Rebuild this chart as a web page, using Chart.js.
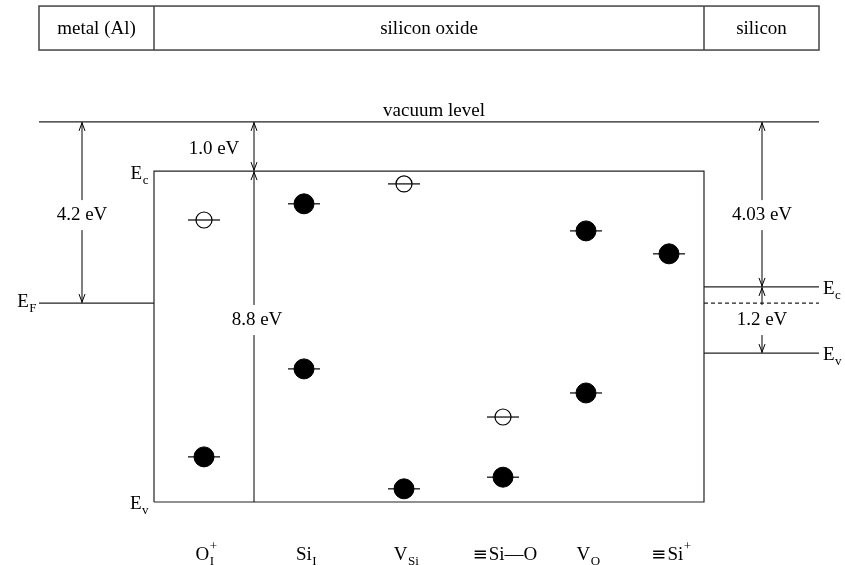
<!DOCTYPE html>
<html lang="en">
<head>
<meta charset="UTF-8">
<title>Defect levels in silicon oxide</title>
<script src="https://cdn.jsdelivr.net/npm/chart.js"></script>
<style>
  html, body { margin: 0; padding: 0; background: #fff; }
  .chart-box { width: 845px; height: 565px; }
</style>
</head>
<body>
<div class="chart-box"><canvas id="bandChart" width="845" height="565"></canvas></div>
<script>
  // x: position across the stack (oxide runs from 0 to 11), y: energy in eV above oxide Ev
  const layerNames = ['metal (Al)', 'silicon oxide', 'silicon'];
  const layerEdges = [-2.3, 0, 11, 13.3];

  const vacuumLevel = 10.11;
  const oxideBands = [0, 8.8];        // Ev, Ec
  const metalFermi = 5.29;
  const siliconBands = [3.96, 5.72];  // Ev, Ec
  const siliconFermi = 5.29;

  // defect columns
  const defectX = [1.0, 3.0, 5.0, 6.98, 8.64, 10.3];
  const defectBase = ['O', 'Si', 'V', '\u2261Si\u2014O', 'V', '\u2261Si'];
  const defectSub = ['I', 'I', 'Si', '', 'O', ''];
  const defectSup = ['+', '', '', '', '', '+'];
  const filledLevels = [[1.2], [7.93, 3.54], [0.35], [0.66], [7.21, 2.9], [6.6]];
  const emptyLevels = [[7.5], [], [8.46], [2.26], [], []];

  // energy arrows
  const gapX = [-1.44, 2.0, 2.0, 12.16, 12.16];
  const gapTop = [vacuumLevel, vacuumLevel, 8.8, vacuumLevel, 5.72];
  const gapBottom = [metalFermi, 8.8, 0, 5.72, 3.96];
  const gapText = ['4.2 eV', '1.0 eV', '8.8 eV', '4.03 eV', '1.2 eV'];
  const gapTextX = [-1.44, 1.2, 2.06, 12.16, 12.16];
  const gapTextY = [7.63, 9.39, 4.84, 7.63, 4.84];

  const SERIF = '"Liberation Serif", "DejaVu Serif", serif';

  function pts(xs, ys) {
    return xs.map((x, i) => ({ x: x, y: ys[i] }));
  }

  function levelPoints(levels) {
    const out = [];
    levels.forEach((list, i) => list.forEach(e => out.push({ x: defectX[i], y: e })));
    return out;
  }

  function bandLine(data, dash) {
    return {
      data: data,
      showLine: true,
      pointRadius: 0,
      borderColor: '#222',
      borderWidth: 1.2,
      borderDash: dash || [],
      order: 3
    };
  }

  const datasets = [
    bandLine(pts([layerEdges[0], layerEdges[3]], [vacuumLevel, vacuumLevel])),
    bandLine(pts([layerEdges[0], layerEdges[1]], [metalFermi, metalFermi])),
    bandLine(pts([0, 0, 11, 11, 0], [oxideBands[0], oxideBands[1], oxideBands[1], oxideBands[0], oxideBands[0]])),
    bandLine(pts([layerEdges[2], layerEdges[3]], [siliconBands[1], siliconBands[1]])),
    bandLine(pts([layerEdges[2], layerEdges[3]], [siliconBands[0], siliconBands[0]])),
    bandLine(pts([layerEdges[2], layerEdges[3]], [siliconFermi, siliconFermi]), [4, 3]),
    {
      // short horizontal bar through every level
      data: levelPoints(filledLevels).concat(levelPoints(emptyLevels)),
      pointStyle: 'line',
      pointRadius: 16,
      pointBorderColor: '#000',
      pointBorderWidth: 1.2,
      order: 2
    },
    {
      data: levelPoints(filledLevels),
      pointStyle: 'circle',
      pointRadius: 10,
      pointBackgroundColor: '#000',
      pointBorderColor: '#000',
      pointBorderWidth: 1,
      order: 1
    },
    {
      data: levelPoints(emptyLevels),
      pointStyle: 'circle',
      pointRadius: 8,
      pointBackgroundColor: 'rgba(0,0,0,0)',
      pointBorderColor: '#000',
      pointBorderWidth: 1.2,
      order: 1
    }
  ];

  function drawLabel(ctx, px, py, base, sub, sup, align, size) {
    const big = size + 'px ' + SERIF;
    const small = Math.round(size * 0.7) + 'px ' + SERIF;
    const symFont = (size - 1) + 'px "DejaVu Sans"';
    // the triple-bond sign is drawn wider, in DejaVu Sans
    let prefix = '';
    if (base.charAt(0) === '\u2261') { prefix = '\u2261'; base = base.slice(1); }
    ctx.font = symFont;
    const wPre = prefix ? ctx.measureText(prefix).width + 1 : 0;
    ctx.font = big;
    const wBase = ctx.measureText(base).width;
    ctx.font = small;
    const wSub = sub ? ctx.measureText(sub).width : 0;
    const wSup = sup ? ctx.measureText(sup).width : 0;
    const total = wPre + wBase + Math.max(wSub, wSup);
    let left = px - total / 2;
    if (align === 'right') left = px - total;
    if (align === 'left') left = px;
    ctx.textAlign = 'left';
    ctx.textBaseline = 'alphabetic';
    if (prefix) {
      ctx.font = symFont;
      ctx.fillText(prefix, left, py);
      left += wPre;
    }
    ctx.font = big;
    ctx.fillText(base, left, py);
    ctx.font = small;
    if (sub) ctx.fillText(sub, left + wBase + 0.5, py + 5);
    if (sup) ctx.fillText(sup, left + wBase + 0.5, py - 10);
  }

  function arrowHead(ctx, x, y, dir) {
    ctx.beginPath();
    ctx.moveTo(x - 3, y + dir * 8);
    ctx.lineTo(x, y);
    ctx.lineTo(x + 3, y + dir * 8);
    ctx.stroke();
  }

  const annotations = {
    id: 'annotations',
    afterDatasetsDraw(chart) {
      const ctx = chart.ctx;
      const xs = chart.scales.x, ys = chart.scales.y;
      const X = v => xs.getPixelForValue(v);
      const Y = v => ys.getPixelForValue(v);
      ctx.save();
      ctx.fillStyle = '#000';
      ctx.strokeStyle = '#222';

      // layer strip at the top
      const top = Y(13.19), bottom = Y(12.02);
      ctx.lineWidth = 1.5;
      ctx.strokeStyle = '#444';
      ctx.strokeRect(X(layerEdges[0]), top, X(layerEdges[3]) - X(layerEdges[0]), bottom - top);
      ctx.beginPath();
      [layerEdges[1], layerEdges[2]].forEach(e => {
        ctx.moveTo(X(e), top);
        ctx.lineTo(X(e), bottom);
      });
      ctx.stroke();
      ctx.font = '19px ' + SERIF;
      ctx.textAlign = 'center';
      ctx.textBaseline = 'middle';
      layerNames.forEach((n, i) => {
        ctx.fillText(n, (X(layerEdges[i]) + X(layerEdges[i + 1])) / 2, (top + bottom) / 2 + 1);
      });

      // vacuum level label
      ctx.textBaseline = 'alphabetic';
      ctx.fillText('vacuum level', X(5.6), Y(vacuumLevel) - 6);

      // arrows
      ctx.strokeStyle = '#000';
      ctx.lineWidth = 1;
      ctx.font = '19px ' + SERIF;
      gapText.forEach((t, i) => {
        const x = X(gapX[i]);
        const y1 = Y(gapTop[i]), y2 = Y(gapBottom[i]);
        const tx = X(gapTextX[i]), ty = Y(gapTextY[i]);
        const onLine = Math.abs(tx - x) < 6;
        ctx.beginPath();
        if (onLine) {
          ctx.moveTo(x, y1); ctx.lineTo(x, ty - 15);
          ctx.moveTo(x, ty + 15); ctx.lineTo(x, y2);
        } else {
          ctx.moveTo(x, y1); ctx.lineTo(x, y2);
        }
        ctx.stroke();
        arrowHead(ctx, x, y1 + 1, 1);
        if (i !== 2) arrowHead(ctx, x, y2 - 1, -1);
        ctx.textAlign = 'center';
        ctx.textBaseline = 'middle';
        ctx.fillText(t, tx, ty);
      });

      // band edge labels
      drawLabel(ctx, X(0) - 6, Y(oxideBands[1]) + 8, 'E', 'c', '', 'right', 19);
      drawLabel(ctx, X(0) - 6, Y(oxideBands[0]) + 7, 'E', 'v', '', 'right', 19);
      drawLabel(ctx, X(layerEdges[0]) - 3, Y(metalFermi) + 4, 'E', 'F', '', 'right', 19);
      drawLabel(ctx, X(layerEdges[3]) + 4, Y(siliconBands[1]) + 7, 'E', 'c', '', 'left', 19);
      drawLabel(ctx, X(layerEdges[3]) + 4, Y(siliconBands[0]) + 7, 'E', 'v', '', 'left', 19);

      // defect names under the box
      defectX.forEach((d, i) => {
        drawLabel(ctx, X(d) + 2, Y(-1.54), defectBase[i], defectSub[i], defectSup[i], 'center', 19);
      });
      ctx.restore();
    }
  };

  new Chart(document.getElementById('bandChart'), {
    type: 'scatter',
    data: { datasets: datasets },
    options: {
      responsive: false,
      animation: false,
      events: [],
      layout: { padding: 0, autoPadding: false },
      plugins: { legend: { display: false }, tooltip: { enabled: false } },
      scales: {
        x: { type: 'linear', min: -3.08, max: 13.82, display: false },
        y: { type: 'linear', min: -1.6755, max: 13.351, display: false }
      }
    },
    plugins: [annotations]
  });
</script>
</body>
</html>
